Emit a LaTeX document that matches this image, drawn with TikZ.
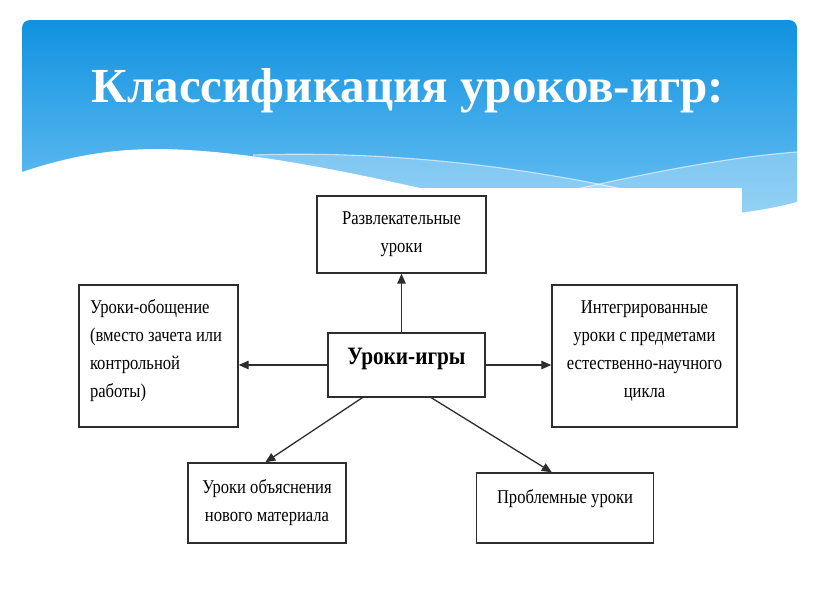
\documentclass[tikz,border=0pt]{standalone}
\usepackage{fontspec}
\setmainfont{Liberation Serif}
\newfontfamily\boxfont[FakeStretch=0.85]{Liberation Serif}
\usetikzlibrary{arrows.meta,calc}
\definecolor{bantop}{RGB}{16,146,224}
\definecolor{banbot}{RGB}{118,198,245}
\definecolor{boxline}{RGB}{45,45,45}
\tikzset{
  box/.style={draw=boxline,line width=1.4pt,rectangle,inner xsep=6pt,inner ysep=0pt,
    font=\boxfont\fontsize{19.5}{28}\selectfont,align=flush center},
  arr/.style={draw=boxline,line width=1.3pt,-{Triangle[length=10pt,width=8.5pt]}}
}
\begin{document}
\begin{tikzpicture}[x=1pt,y=-1pt]
\useasboundingbox (0,0) rectangle (816,613);
\fill[white] (0,0) rectangle (816,613);
% banner
\shade[top color=bantop,bottom color=banbot,rounded corners=8pt] (22,20) rectangle (797,240);
% light swoosh bands
\fill[white,opacity=0.28] (253,155) .. controls (400,150) and (540,170) .. (640,193)
  -- (640,240) -- (253,240) -- cycle;
\fill[white,opacity=0.28] (560,193) .. controls (650,172) and (730,157) .. (797,152)
  -- (797,240) -- (560,240) -- cycle;
\draw[white,opacity=0.6,line width=1.1pt] (253,155) .. controls (400,150) and (540,170) .. (640,193);
\draw[white,opacity=0.6,line width=1.1pt] (555,194) .. controls (650,172) and (730,157) .. (797,152);
% white wave
\fill[white] (10,172) -- (22,172) .. controls (70,156) and (110,149) .. (160,149)
  .. controls (240,150) and (330,168) .. (420,188)
  .. controls (560,220) and (700,228) .. (797,202) -- (810,202) -- (810,260) -- (10,260) -- cycle;
% white picture area
\fill[white] (60,188) rectangle (742,585);
% title
\node[text=white,anchor=base,font=\bfseries\fontsize{49}{49}\selectfont] (title) at (408,102) {Классификация уроков-игр:};
% boxes
\node[box,text width=157pt,minimum height=77pt] (b1) at (401.5,234.5) {Развлекательные\\уроки};
\node[box,align=flush left,inner xsep=11pt,text width=137pt,minimum height=142pt] (b2) at (158.5,356)
  {Уроки-обощение\\(вместо зачета или\\контрольной\\работы)\\[-14pt]\mbox{}};
\node[box,text width=145pt,minimum height=64pt,font=\boxfont\bfseries\fontsize{25}{28}\selectfont] (c) at (406.5,365) {Уроки-игры\\[-11pt]\mbox{}};
\node[box,text width=173pt,minimum height=142pt] (b4) at (644.5,356)
  {Интегрированные\\уроки с предметами\\естественно-научного\\цикла\\[-14pt]\mbox{}};
\node[box,text width=146pt,minimum height=80pt] (b5) at (267,503) {Уроки объяснения\\нового материала};
\node[box,text width=165pt,minimum height=70pt] (b6) at (565,508) {Проблемные уроки\\[-5pt]\mbox{}};
% connectors
\draw[arr] (c.north -| b1.south) -- (b1.south);
\draw[arr] (c.west) -- (c.west -| b2.east);
\draw[arr] (c.east) -- (c.east -| b4.west);
\draw[arr] ($(c.south west)+(35,0)$) -- ($(b5.north west)+(78,0)$);
\draw[arr] ($(c.south west)+(104,0)$) -- ($(b6.north west)+(76,0)$);
\end{tikzpicture}
\end{document}
